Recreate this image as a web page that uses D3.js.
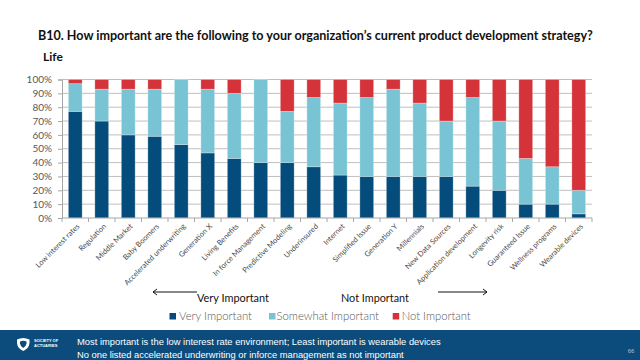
<!DOCTYPE html>
<html>
<head>
<meta charset="utf-8">
<script src="https://cdn.jsdelivr.net/npm/d3@7/dist/d3.min.js"></script>
<style>
  html, body { margin: 0; padding: 0; background: #fff; }
  svg { display: block; }
</style>
</head>
<body>
<svg id="chart" width="640" height="360"></svg>
<script>
// ---- Data (percent of respondents) ----
const categories = [
  "Low interest rates", "Regulation", "Middle Market", "Baby Boomers",
  "Accelerated underwriting", "Generation X", "Living Benefits",
  "In force Management", "Predictive Modeling", "Underinsured", "Internet",
  "Simplified Issue", "Generation Y", "Millennials", "New Data Sources",
  "Application development", "Longevity risk", "Guaranteed Issue",
  "Wellness programs", "Wearable devices"
];
const veryImportant     = [77, 70, 60, 59, 53, 47, 43, 40, 40, 37, 31, 30, 30, 30, 30, 23, 20, 10, 10, 3];
const somewhatImportant = [20, 23, 33, 34, 47, 46, 47, 60, 37, 50, 52, 57, 63, 53, 40, 64, 50, 33, 27, 17];
const notImportant      = [3, 7, 7, 7, 0, 7, 10, 0, 23, 13, 17, 13, 7, 17, 30, 13, 30, 57, 63, 80];
const seriesNames = ["Very Important", "Somewhat Important", "Not Important"];
const yTicks = [0, 10, 20, 30, 40, 50, 60, 70, 80, 90, 100];

const titleText = "B10. How important are the following to your organization\u2019s current product development strategy?";
const subtitleText = "Life";
const footerLines = [
  "Most important is the low interest rate environment; Least important is wearable devices",
  "No one listed accelerated underwriting or inforce management as not important"
];
const pageNumber = "66";

// ---- Styles ----
const colors = ["#044C7B", "#78C4D4", "#D43339"];
const svg = d3.select("#chart");
const FONT = "Lato, 'Open Sans', 'Liberation Sans', sans-serif";

function fit(sel, w) {
  const n = sel.node();
  const len = n.getComputedTextLength();
  if (len > 0) {
    const fs = parseFloat(sel.attr("font-size"));
    sel.attr("font-size", (fs * w / len).toFixed(2));
  }
  return sel;
}

// ---- Title ----
fit(svg.append("text").attr("x", 38).attr("y", 40)
  .attr("font-family", FONT).attr("font-weight", "bold").attr("font-size", 12.5)
  .attr("fill", "#111").text(titleText), 555);
svg.append("text").attr("x", 43).attr("y", 61)
  .attr("font-family", FONT).attr("font-weight", "bold").attr("font-size", 12)
  .attr("fill", "#111").text(subtitleText);

// ---- Scales ----
const x = d3.scaleBand().domain(categories).range([62, 592])
  .paddingInner(0.48).paddingOuter(0.24);
const y = d3.scaleLinear().domain([0, 100]).range([218, 79.5]);

// Gridlines
svg.append("g").selectAll("line").data(yTicks.filter(d => d > 0)).join("line")
  .attr("x1", 62).attr("x2", 592)
  .attr("y1", d => y(d)).attr("y2", d => y(d))
  .attr("stroke", "#BFBFBF").attr("stroke-width", 1);

// Bars
const rows = categories.map((c, i) => ({
  cat: c, v0: veryImportant[i], v1: somewhatImportant[i], v2: notImportant[i]
}));
const stack = d3.stack().keys(["v0", "v1", "v2"]);
const stacked = stack(rows);
svg.append("g").selectAll("g").data(stacked).join("g")
  .attr("fill", (d, i) => colors[i])
  .selectAll("rect").data(d => d).join("rect")
  .attr("x", d => x(d.data.cat))
  .attr("width", x.bandwidth())
  .attr("y", d => y(d[1]))
  .attr("height", d => Math.max(0, y(d[0]) - y(d[1])))
  .attr("stroke", "rgba(255,255,255,0.35)").attr("stroke-width", 0.8);

// Y axis
const yAxis = d3.axisLeft(y).tickValues(yTicks).tickSize(4).tickPadding(6)
  .tickFormat(d => d + "%");
const gy = svg.append("g").attr("transform", "translate(62,0)").call(yAxis);
gy.select(".domain").attr("stroke", "#A6A6A6");
gy.selectAll(".tick line").attr("stroke", "#A6A6A6");
gy.selectAll(".tick text").attr("font-family", FONT).attr("font-size", 10)
  .attr("fill", "#595959");

// X axis baseline & ticks at band boundaries
svg.append("line").attr("x1", 62).attr("x2", 592).attr("y1", 218).attr("y2", 218)
  .attr("stroke", "#A6A6A6");
const bounds = d3.range(categories.length + 1).map(i => 62 + i * x.step());
svg.append("g").selectAll("line").data(bounds).join("line")
  .attr("x1", d => d).attr("x2", d => d).attr("y1", 218).attr("y2", 222)
  .attr("stroke", "#A6A6A6");

// X labels
svg.append("g").selectAll("text").data(categories).join("text")
  .attr("transform", d => `translate(${x(d) + x.bandwidth() / 2 + 3},${225}) rotate(-45)`)
  .attr("text-anchor", "end").attr("dy", "0.35em")
  .attr("font-family", FONT).attr("font-size", 7.5).attr("fill", "#4a4a4a")
  .text(d => d);

// ---- Annotations ----
function arrow(x1, x2, yy) {
  svg.append("line").attr("x1", x1).attr("x2", x2).attr("y1", yy).attr("y2", yy)
    .attr("stroke", "#111").attr("stroke-width", 1);
  const dir = x2 > x1 ? -1 : 1;
  svg.append("path")
    .attr("d", `M${x2 + dir * 4},${yy - 3}L${x2},${yy}L${x2 + dir * 4},${yy + 3}`)
    .attr("fill", "none").attr("stroke", "#111").attr("stroke-width", 1);
}
arrow(197, 153, 292);
arrow(438, 487, 292);
fit(svg.append("text").attr("x", 197).attr("y", 302)
  .attr("font-family", FONT).attr("font-size", 11).attr("fill", "#111")
  .text("Very Important"), 72);
fit(svg.append("text").attr("x", 341).attr("y", 302)
  .attr("font-family", FONT).attr("font-size", 11).attr("fill", "#111")
  .text("Not Important"), 68);

// ---- Legend ----
const legendPos = [
  { sq: 169.5, tx: 179, w: 73 },
  { sq: 269, tx: 276.5, w: 102.5 },
  { sq: 392.7, tx: 401.7, w: 69 }
];
seriesNames.forEach((name, i) => {
  svg.append("rect").attr("x", legendPos[i].sq).attr("y", 313)
    .attr("width", 6.5).attr("height", 6.5).attr("fill", colors[i]);
  fit(svg.append("text").attr("x", legendPos[i].tx).attr("y", 320)
    .attr("font-family", FONT).attr("font-weight", 300).attr("font-size", 10.5)
    .attr("fill", "#595959").text(name), legendPos[i].w);
});

// ---- Footer ----
svg.append("rect").attr("x", 0).attr("y", 330).attr("width", 640).attr("height", 30)
  .attr("fill", "#0B4C7C");
const FOOT = "'Liberation Sans Narrow', 'Liberation Sans', Arial, sans-serif";
fit(svg.append("text").attr("x", 77).attr("y", 344.5)
  .attr("font-family", FOOT).attr("font-size", 10).attr("fill", "#fff")
  .text(footerLines[0]), 364);
fit(svg.append("text").attr("x", 77).attr("y", 358.3)
  .attr("font-family", FOOT).attr("font-size", 10).attr("fill", "#fff")
  .text(footerLines[1]), 327);
svg.append("text").attr("x", 631).attr("y", 353).attr("text-anchor", "middle")
  .attr("font-family", FOOT).attr("font-size", 6).attr("fill", "#A9C0D6")
  .text(pageNumber);

// Logo
svg.append("path")
  .attr("d", "M17,339.5 Q23,336.5 29.5,339.5 L29.5,343 Q29,348.5 23.2,351 Q17.5,348.5 17,343 Z")
  .attr("fill", "#fff");
svg.append("path")
  .attr("d", "M20,341.5 Q23.2,340.2 26.5,341.5 L26.5,343.5 Q26,346.5 23.2,348 Q20.5,346.5 20,343.5 Z")
  .attr("fill", "#0B4C7C");
svg.append("text").attr("x", 34).attr("y", 342).attr("font-family", "'Liberation Sans', sans-serif")
  .attr("font-size", 4).attr("font-weight", "bold").attr("fill", "#fff").text("SOCIETY OF");
svg.append("text").attr("x", 34).attr("y", 346.5).attr("font-family", "'Liberation Sans', sans-serif")
  .attr("font-size", 4).attr("font-weight", "bold").attr("fill", "#fff").text("ACTUARIES");
</script>
</body>
</html>
